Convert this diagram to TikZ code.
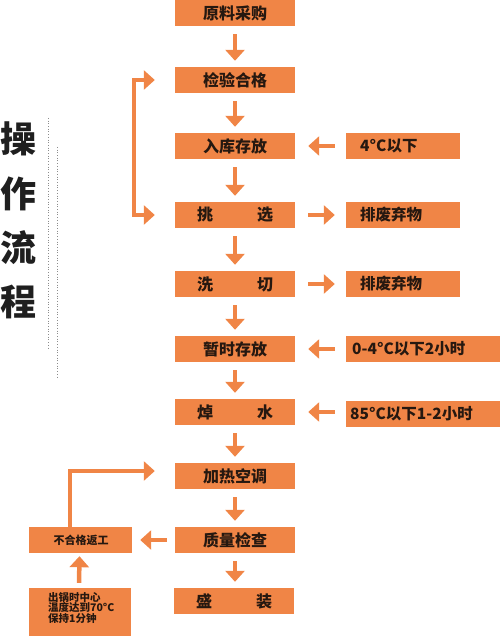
\documentclass[tikz,border=0pt]{standalone}
\usepackage{fontspec}
\newfontfamily\cjk{Noto Sans CJK SC}
\usetikzlibrary{arrows.meta}
\definecolor{org}{RGB}{240,133,70}
\definecolor{txt}{RGB}{38,24,16}
\begin{document}
\begin{tikzpicture}[x=1pt,y=-1pt,
  mbox/.style={fill=org,draw=none,inner sep=0pt,minimum width=120pt,minimum height=26pt,
    text=txt,font=\cjk\bfseries\fontsize{16}{16}\selectfont},
  rbox/.style={fill=org,draw=none,inner sep=0pt,minimum height=26pt},
  rtext/.style={anchor=west,inner sep=0pt,text=txt,font=\cjk\bfseries\fontsize{15.5}{15.5}\selectfont},
  ltext/.style={inner sep=0pt,text=txt,font=\cjk\bfseries\fontsize{11}{11}\selectfont},
  ttl/.style={inner sep=0pt,text=black!88,font=\cjk\bfseries\fontsize{36}{36}\selectfont},
  arr/.style={draw=org,line width=4.5pt,-{Triangle[width=19pt,length=11pt]}},
  dots/.style={draw=black!45,line width=0.7pt,dotted}
]
\useasboundingbox (0,0) rectangle (500,636);

% title
\node[ttl] (c1) at (18,139) {操};
\node[ttl] (c2) at (18,194) {作};
\node[ttl] (c3) at (18,248) {流};
\node[ttl] (c4) at (18,302) {程};
\draw[dots] (48,118) -- (48,350);
\draw[dots] (57,147) -- (57,378);

% main column
\node[mbox] (a1) at (235,13) {原料采购};
\node[mbox] (a2) at (235,80) {检验合格};
\node[mbox] (a3) at (235,146) {入库存放};
\node[mbox] (a4) at (235,215) {挑\hspace{44pt}选};
\node[mbox] (a5) at (235,284) {洗\hspace{44pt}切};
\node[mbox] (a6) at (235,349) {暂时存放};
\node[mbox] (a7) at (235,412) {焯\hspace{44pt}水};
\node[mbox] (a8) at (235,476) {加热空调};
\node[mbox] (a9) at (235,540) {质量检查};
\node[mbox] (a10) at (234,601) {盛\hspace{44pt}装};

% right column
\node[rbox,minimum width=114pt] (r3) at (403,146) {};
\node[rtext] (t3) at (360,146) {4°C以下};
\node[rbox,minimum width=114pt] (r4) at (403,215) {};
\node[rtext] (t4) at (360,215) {排废弃物};
\node[rbox,minimum width=114pt] (r5) at (403,284) {};
\node[rtext] (t5) at (360,284) {排废弃物};
\node[rbox,minimum width=154pt] (r6) at (423,349) {};
\node[rtext] (t6) at (352,349) {0-4°C以下2小时};
\node[rbox,minimum width=154pt] (r7) at (423,414) {};
\node[rtext] (t7) at (350,414) {85°C以下1-2小时};

% left boxes
\node[fill=org,inner sep=0pt,minimum width=103pt,minimum height=26pt] (rw) at (80.5,540) {};
\node[ltext] (trw) at (81,540) {不合格返工};
\node[fill=org,inner sep=0pt,minimum width=102pt,minimum height=48pt] (bb) at (80,612) {};
\node[ltext,anchor=north west,align=left,font=\cjk\bfseries\fontsize{10.5}{10.5}\selectfont] (tbb) at (48,592) {出锅时中心\\温度达到70°C\\保持1分钟};

% vertical arrows
\foreach \p/\q in {a1/a2,a2/a3,a3/a4,a4/a5,a5/a6,a6/a7,a7/a8,a8/a9,a9/a10}
  \draw[arr,shorten <=8pt,shorten >=6pt] (\p.south) -- (\p.south |- \q.north);

% horizontal arrows
\draw[arr,shorten <=11pt,shorten >=13pt] (r3.west) -- (a3.east);
\draw[arr,shorten <=13pt,shorten >=11pt] (a4.east) -- (r4.west);
\draw[arr,shorten <=13pt,shorten >=11pt] (a5.east) -- (r5.west);
\draw[arr,shorten <=11pt,shorten >=13pt] (r6.west) -- (a6.east);
\draw[arr,shorten <=11pt,shorten >=13pt] (r7.west |- a7.east) -- (a7.east);

% feedback loop
\draw[draw=org,line width=4.5pt,{Triangle[width=19pt,length=11pt]}-{Triangle[width=19pt,length=11pt]},
  shorten <=20pt,shorten >=20pt] (a2.west) -- ++(-41,0) |- (a4.west);

% rework loop
\draw[arr,shorten <=8pt,shorten >=8pt] (a9.west) -- (rw.east);
\draw[arr,shorten <=5pt,shorten >=3pt] ([xshift=-1pt]bb.north) -- ([xshift=-1pt]rw.south);
\draw[arr,shorten >=20pt] ([xshift=-10.5pt]rw.north) |- ([yshift=5pt]a8.west);
\end{tikzpicture}
\end{document}
